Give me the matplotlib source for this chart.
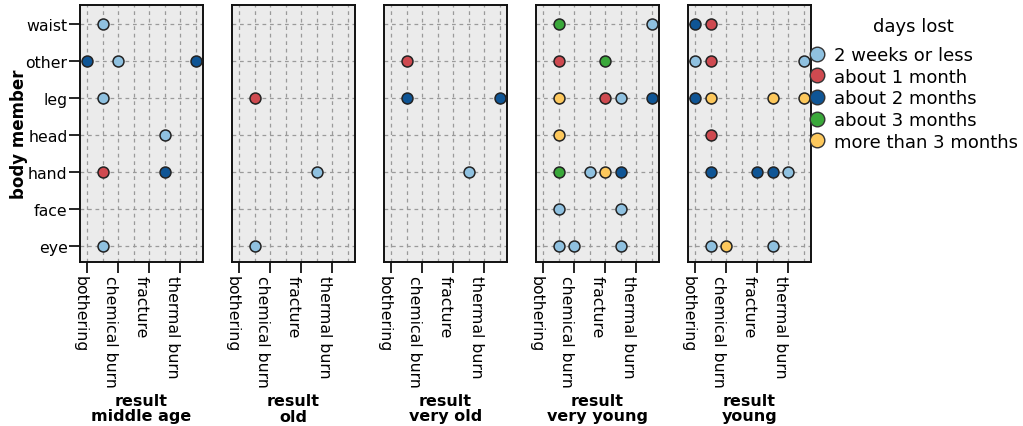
import matplotlib.pyplot as plt
from matplotlib.lines import Line2D

results = ['bothering', 'chemical burn', 'fracture', 'thermal burn']
members = ['eye', 'face', 'hand', 'head', 'leg', 'other', 'waist']
days_lost = ['2 weeks or less', 'about 1 month', 'about 2 months',
             'about 3 months', 'more than 3 months']
day_colors = ['#8fc1e0', '#cf4a50', '#0f5595', '#3aa83a', '#fdc85c']
ages = ['middle age', 'old', 'very old', 'very young', 'young']

# (body member, result position, days lost index)
middle_age = [('waist', 0.5, 0), ('other', 0.0, 2), ('other', 1.0, 0),
              ('other', 3.5, 2), ('leg', 0.5, 0), ('head', 2.5, 0),
              ('hand', 0.5, 1), ('hand', 2.5, 2), ('eye', 0.5, 0)]
old = [('leg', 0.5, 1), ('hand', 2.5, 0), ('eye', 0.5, 0)]
very_old = [('other', 0.5, 1), ('leg', 0.5, 2), ('leg', 3.5, 2),
            ('hand', 2.5, 0)]
very_young = [('waist', 0.5, 3), ('waist', 3.5, 0), ('other', 0.5, 1),
              ('other', 2.0, 3), ('leg', 0.5, 4), ('leg', 2.0, 1),
              ('leg', 2.5, 0), ('leg', 3.5, 2), ('head', 0.5, 4),
              ('hand', 0.5, 3), ('hand', 1.5, 0), ('hand', 2.0, 4),
              ('hand', 2.5, 2), ('face', 0.5, 0), ('face', 2.5, 0),
              ('eye', 0.5, 0), ('eye', 1.0, 0), ('eye', 2.5, 0)]
young = [('waist', 0.0, 2), ('waist', 0.5, 1), ('other', 0.0, 0),
         ('other', 0.5, 1), ('other', 3.5, 0), ('leg', 0.0, 2),
         ('leg', 0.5, 4), ('leg', 2.5, 4), ('leg', 3.5, 4),
         ('head', 0.5, 1), ('hand', 0.5, 2), ('hand', 2.0, 2),
         ('hand', 2.5, 2), ('hand', 3.0, 0), ('eye', 0.5, 0),
         ('eye', 1.0, 4), ('eye', 2.5, 0)]
panels = [middle_age, old, very_old, very_young, young]

W, H = 1023, 427
fig = plt.figure(figsize=(W / 100, H / 100), dpi=100)

for i, (age, pts) in enumerate(zip(ages, panels)):
    left = 80 + i * 152
    ax = fig.add_axes([left / W, 1 - 263 / H, 123 / W, 257 / H])
    ax.set_facecolor('#ebebeb')
    for x in [k * 0.5 for k in range(8)]:
        ax.axvline(x, color='#9a9a9a', lw=0.9, ls=(0, (3, 3)), zorder=1)
    for y in range(len(members)):
        ax.axhline(y, color='#9a9a9a', lw=0.9, ls=(0, (3, 3)), zorder=1)
    for m, x, d in pts:
        ax.scatter(x, members.index(m), s=62, color=day_colors[d],
                   edgecolor='#222222', linewidth=1.1, zorder=3, clip_on=False)
    ax.set_xlim(-0.23, 3.74)
    ax.set_ylim(-0.43, 6.5)
    ax.set_xticks(range(len(results)))
    ax.set_xticklabels(results, rotation=270, ha='right', va='top', fontsize=11.3)
    ax.tick_params(axis='x', length=8, width=1.2, pad=1)
    if i == 0:
        ax.set_yticks(range(len(members)))
        ax.set_yticklabels(members, fontsize=11.3)
        ax.tick_params(axis='y', length=8, width=1.2, pad=1)
        ax.set_ylabel('body member', fontsize=12, fontweight='bold')
        ax.yaxis.set_label_coords(-0.42, 0.5)
    else:
        ax.set_yticks([])
    for s in ax.spines.values():
        s.set_linewidth(1.4)
        s.set_color('#111111')
    ax.annotate('result', xy=(0.5, 0), xycoords='axes fraction',
                xytext=(0, -138), textcoords='offset pixels', ha='center',
                va='center', fontsize=11.5, fontweight='bold')
    ax.annotate(age, xy=(0.5, 0), xycoords='axes fraction',
                xytext=(0, -154), textcoords='offset pixels', ha='center',
                va='center', fontsize=11.5, fontweight='bold')

handles = [Line2D([], [], ls='none', marker='o', markersize=10.5,
                  markerfacecolor=c, markeredgecolor='#333333',
                  markeredgewidth=1.0) for c in day_colors]
leg = fig.legend(handles, days_lost, loc='upper left',
                 bbox_to_anchor=(809 / W, 1 - 18 / H), frameon=False,
                 fontsize=13, title='days lost', title_fontsize=13,
                 handlelength=0.9, handletextpad=0.5, labelspacing=0.2,
                 borderaxespad=0, borderpad=0)
leg._legend_box.sep = 8

fig.savefig('out.png', dpi=100)
